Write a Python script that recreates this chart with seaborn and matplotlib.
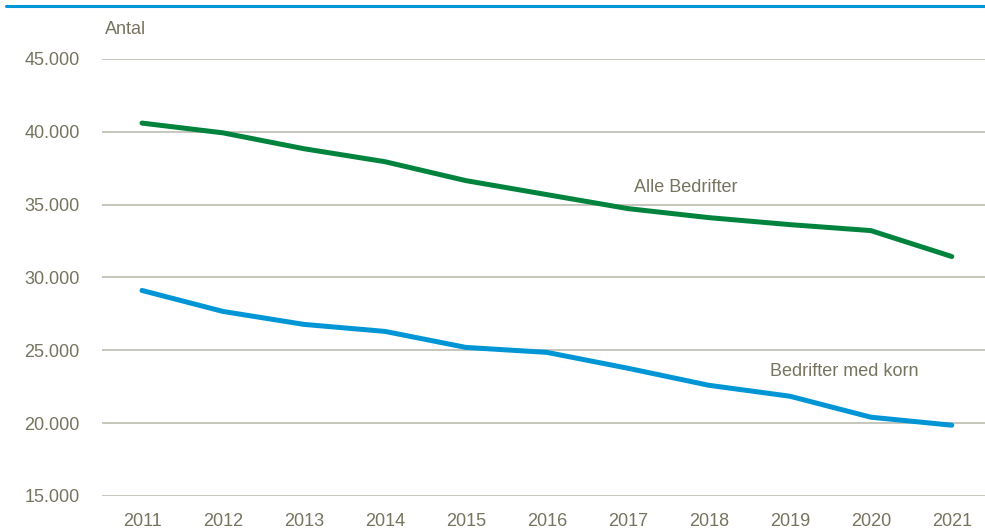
import matplotlib
matplotlib.use("Agg")
import matplotlib.pyplot as plt
import seaborn as sns
import pandas as pd
from matplotlib.lines import Line2D
from matplotlib.ticker import FuncFormatter

years = ["2011", "2012", "2013", "2014", "2015", "2016", "2017", "2018", "2019", "2020", "2021"]
alle = [40600, 39930, 38840, 37950, 36650, 35690, 34730, 34110, 33630, 33220, 31440]
korn = [29110, 27670, 26780, 26300, 25200, 24860, 23770, 22600, 21850, 20410, 19860]
yticks = [15000, 20000, 25000, 30000, 35000, 40000, 45000]

sns.set_theme(style="white")
plt.rcParams['font.family'] = ['Liberation Sans', 'DejaVu Sans']
FS = 13

TXT = "#76745f"
GRID = "#b8b6aa"
GREEN = "#00843d"
BLUE = "#0096d6"

df = pd.DataFrame({"year": years * 2,
                   "value": alle + korn,
                   "series": ["Alle Bedrifter"] * len(years) + ["Bedrifter med korn"] * len(years)})
df["x"] = list(range(len(years))) * 2

fig = plt.figure(figsize=(9.85, 5.31), dpi=100)
ax = fig.add_axes([102 / 985, 1 - 496 / 531, (985 - 102) / 985, (496 - 59) / 531])

for y in yticks:
    ax.axhline(y, color=GRID, lw=1.1, zorder=0)

sns.lineplot(data=df, x="x", y="value", hue="series",
             palette={"Alle Bedrifter": GREEN, "Bedrifter med korn": BLUE},
             linewidth=3.6, legend=False, ax=ax, solid_capstyle="round")

ax.set_xlim(-0.494, 10.41)
ax.set_ylim(15000, 45000)
ax.set_xticks(range(len(years)))
ax.set_xticklabels(years)
ax.set_yticks(yticks)
ax.yaxis.set_major_formatter(FuncFormatter(lambda v, p: f"{int(v):,}".replace(",", ".")))
ax.tick_params(axis="both", length=0, labelsize=FS, labelcolor=TXT)
ax.tick_params(axis="x", pad=12)
ax.tick_params(axis="y", pad=16)
for s in ax.spines.values():
    s.set_visible(False)
ax.set_xlabel("")
ax.set_ylabel("")
ax.grid(False)

fig.text(105 / 985, 1 - 30 / 531, "Antal", color=TXT, fontsize=FS, va="center", ha="left")
ax.text(6.08, 36200, "Alle Bedrifter", color=TXT, fontsize=FS, va="center", ha="left")
ax.text(7.75, 23550, "Bedrifter med korn", color=TXT, fontsize=FS, va="center", ha="left")

fig.add_artist(Line2D([6 / 985, 1.0], [1 - 6 / 531, 1 - 6 / 531], color=BLUE, lw=2.2,
                      transform=fig.transFigure))

fig.savefig("out.png", dpi=100)
